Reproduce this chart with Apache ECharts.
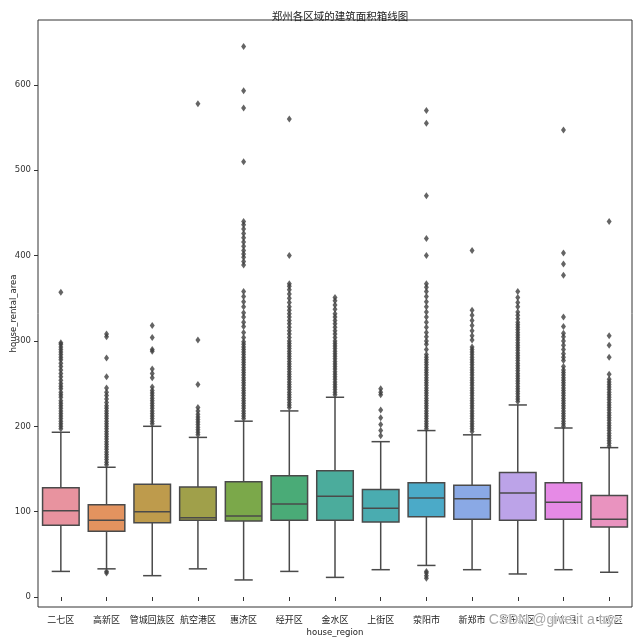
<!DOCTYPE html>
<html>
<head>
<meta charset="utf-8">
<script src="https://cdn.jsdelivr.net/npm/echarts@6/dist/echarts.min.js"></script>
<style>html,body{margin:0;padding:0;background:#fff}#c{width:640px;height:641px}</style>
</head>
<body>
<div id="c"></div>
<script>
const categories = ['二七区','高新区','管城回族区','航空港区','惠济区','经开区','金水区','上街区','荥阳市','新郑市','郑东新区','中牟县','中原区'];
const lowWhisker  = [30, 33, 25, 33, 20, 30, 23, 32, 37, 32, 27, 32, 29];
const q1Values    = [84, 77, 87, 90, 89, 90, 90, 88, 94, 91, 90, 91, 82];
const medians     = [101, 90, 100, 93, 95, 109, 118, 104, 116, 115, 122, 111, 91];
const q3Values    = [128, 108, 132, 129, 135, 142, 148, 126, 134, 131, 146, 134, 119];
const highWhisker = [193, 152, 200, 187, 206, 218, 234, 182, 195, 190, 225, 198, 175];

const outliers = [
  [197,200,203,206,209,212,215,218,221,224,227,230,234,237,240,244,247,250,254,258,262,266,270,274,278,281,284,287,290,293,296,298,357],
  [28,30,155,158,161,164,167,170,173,176,179,182,185,188,191,194,197,200,203,206,209,212,215,218,221,224,228,232,236,240,245,258,280,305,308],
  [203,206,209,212,215,218,221,224,227,230,233,236,239,242,246,257,262,267,288,290,304,318],
  [190,193,196,199,202,205,208,211,214,218,222,249,301,578],
  [209,212,215,218,221,224,227,230,233,236,239,242,245,248,251,254,257,260,263,266,269,272,275,278,281,284,287,290,293,296,299,304,310,317,322,328,333,340,346,352,358,389,393,398,402,406,411,416,421,426,431,436,440,510,573,593,645],
  [222,225,228,231,234,237,240,243,246,249,252,255,258,261,264,267,270,273,276,279,282,285,288,291,294,297,300,304,308,312,316,320,324,328,332,336,340,345,350,355,360,364,367,400,560],
  [237,240,243,246,249,252,255,258,261,264,267,270,273,276,279,282,285,288,291,294,297,300,304,308,312,316,320,324,328,332,337,342,347,351],
  [189,195,202,210,219,237,240,244],
  [22,25,28,30,197,200,203,206,209,212,215,218,221,224,227,230,233,236,239,242,245,248,251,254,257,260,263,266,269,272,275,278,281,284,290,296,300,305,310,316,322,328,334,340,346,352,358,363,367,400,420,470,555,570],
  [194,197,200,203,206,209,212,215,218,221,224,227,230,233,236,239,242,245,248,251,254,257,260,263,266,269,272,275,278,281,284,287,290,293,301,306,312,318,324,330,336,406],
  [229,232,235,238,241,244,247,250,253,256,259,262,265,268,271,274,277,280,283,286,289,292,295,298,301,304,307,310,313,316,319,322,326,330,334,340,345,351,358],
  [200,203,206,209,212,215,218,221,224,227,230,233,236,239,242,245,248,251,254,257,260,263,266,270,277,281,285,290,295,300,305,309,317,328,377,390,403,547],
  [177,180,183,186,189,192,195,198,201,204,207,210,213,216,219,222,225,228,231,234,237,240,243,246,249,252,255,261,281,295,306,440]
];
const yTicks = [0, 100, 200, 300, 400, 500, 600];

const palette = ['#E8939F','#E3935F','#BE9B4C','#A0A04A','#7BA84A','#4AAB77','#4BAC9C','#4AACB0','#4BAAC8','#8AA9E5','#BCA3E8','#E68AE6','#E993BF'];

const boxData = categories.map((c, i) => [i, lowWhisker[i], q1Values[i], medians[i], q3Values[i], highWhisker[i]]);
const outlierData = [];
outliers.forEach((arr, i) => arr.forEach(v => outlierData.push([i, v])));

const edge = '#4a4a4a';
function renderBox(params, api) {
  const x = api.value(0);
  const lo = api.coord([x, api.value(1)]);
  const q1 = api.coord([x, api.value(2)]);
  const med = api.coord([x, api.value(3)]);
  const q3 = api.coord([x, api.value(4)]);
  const hi = api.coord([x, api.value(5)]);
  const band = api.size([1, 0])[0];
  const bw = band * 0.8;
  const cw = bw * 0.5;
  const cx = med[0];
  const ls = { stroke: edge, lineWidth: 1.5 };
  return {
    type: 'group',
    children: [
      { type: 'line', shape: { x1: cx, y1: lo[1], x2: cx, y2: q1[1] }, style: ls },
      { type: 'line', shape: { x1: cx, y1: q3[1], x2: cx, y2: hi[1] }, style: ls },
      { type: 'line', shape: { x1: cx - cw / 2, y1: lo[1], x2: cx + cw / 2, y2: lo[1] }, style: ls },
      { type: 'line', shape: { x1: cx - cw / 2, y1: hi[1], x2: cx + cw / 2, y2: hi[1] }, style: ls },
      { type: 'rect', shape: { x: cx - bw / 2, y: q3[1], width: bw, height: q1[1] - q3[1] },
        style: { fill: palette[params.dataIndex], stroke: edge, lineWidth: 1.5 } },
      { type: 'line', shape: { x1: cx - bw / 2, y1: med[1], x2: cx + bw / 2, y2: med[1] }, style: ls }
    ]
  };
}

const font = '"Noto Sans CJK SC", "DejaVu Sans", sans-serif';
const chart = echarts.init(document.getElementById('c'), null, { renderer: 'canvas' });
chart.setOption({
  animation: false,
  backgroundColor: '#fff',
  title: {
    text: '郑州各区域的建筑面积箱线图',
    left: 335, top: 6, textAlign: 'center',
    textStyle: { fontFamily: font, fontSize: 10.5, fontWeight: 'normal', color: '#222' }
  },
  grid: { left: 38, right: 8, top: 20, bottom: 34, outerBoundsMode: 'none', containLabel: false,
          show: true, borderColor: '#333', borderWidth: 1, backgroundColor: 'transparent' },
  xAxis: {
    type: 'category',
    data: categories,
    boundaryGap: true,
    name: 'house_region',
    nameLocation: 'middle',
    nameGap: 21,
    nameMoveOverlap: false,
    nameTextStyle: { fontFamily: '"DejaVu Sans", sans-serif', fontSize: 8.5, color: '#222' },
    axisLine: { show: false },
    axisTick: { show: true, alignWithLabel: true, length: 4, lineStyle: { color: '#333' } },
    axisLabel: { fontFamily: font, fontSize: 9, color: '#222', margin: 8, interval: 0 },
    splitLine: { show: false }
  },
  yAxis: {
    type: 'value',
    min: -11.7,
    max: 676,
    name: 'house_rental_area',
    nameLocation: 'middle',
    nameGap: 20,
    nameRotate: 90,
    nameMoveOverlap: false,
    nameTextStyle: { fontFamily: '"DejaVu Sans", sans-serif', fontSize: 8.5, color: '#222' },
    axisLine: { show: false },
    axisTick: { show: true, length: 4, lineStyle: { color: '#333' }, customValues: yTicks },
    axisLabel: { fontFamily: '"DejaVu Sans", sans-serif', fontSize: 8.5, color: '#333', margin: 7, customValues: yTicks },
    splitLine: { show: false }
  },
  series: [
    {
      type: 'custom',
      renderItem: renderBox,
      data: boxData,
      encode: { x: 0, y: [1, 2, 3, 4, 5] },
      z: 2
    },
    {
      type: 'scatter',
      data: outlierData,
      symbol: 'diamond',
      symbolSize: [5, 7],
      itemStyle: { color: '#3d3d3d' },
      z: 3
    }
  ],
  graphic: [{
    type: 'text',
    left: 488, top: 612,
    style: { text: 'CSDN @give it a try~', fontFamily: '"Liberation Sans", sans-serif', fontSize: 14,
             fill: '#a9a9a9', stroke: '#ffffff', lineWidth: 1.5 },
    z: 100
  }]
});
</script>
</body>
</html>
